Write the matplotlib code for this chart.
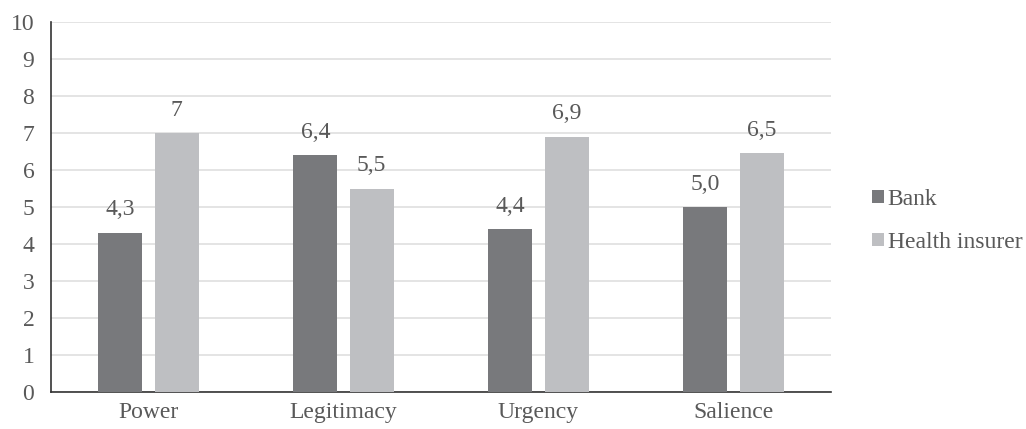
import matplotlib
matplotlib.use("Agg")
import matplotlib.pyplot as plt
import numpy as np

categories = ["Power", "Legitimacy", "Urgency", "Salience"]
bank = [4.3, 6.4, 4.4, 5.0]
health = [7.0, 5.5, 6.9, 6.45]
bank_labels = ["4,3", "6,4", "4,4", "5,0"]
health_labels = ["7", "5,5", "6,9", "6,5"]
yticks = list(range(0, 11))

plt.rcParams['font.family'] = ['Liberation Serif', 'DejaVu Serif']
txt = "#595959"
c_dark = "#78797c"
c_light = "#bebfc2"
fs = 17

fig = plt.figure(figsize=(10.26, 4.29), dpi=100)
ax = fig.add_axes([51/1026, 37/429, 780/1026, 370/429])

x = np.arange(len(categories))
w = 0.226
off = 0.144
b1 = ax.bar(x - off, bank, w, color=c_dark, label="Bank", zorder=3)
b2 = ax.bar(x + off, health, w, color=c_light, label="Health insurer", zorder=3)

for rect, lab in zip(b1, bank_labels):
    ax.annotate(lab, (rect.get_x() + rect.get_width()/2, rect.get_height()),
                xytext=(0, 9), textcoords="offset points", ha="center", va="bottom",
                fontsize=fs, color=txt)
for rect, lab in zip(b2, health_labels):
    ax.annotate(lab, (rect.get_x() + rect.get_width()/2, rect.get_height()),
                xytext=(0, 9), textcoords="offset points", ha="center", va="bottom",
                fontsize=fs, color=txt)

ax.set_xlim(-0.5, len(categories) - 0.5)
ax.set_ylim(0, 10)
ax.set_yticks(yticks)
ax.set_xticks(x)
ax.set_xticklabels(categories)
ax.yaxis.grid(True, color="#e2e2e2", linewidth=1.3, zorder=0)
ax.set_axisbelow(True)
for s in ["top", "right"]:
    ax.spines[s].set_visible(False)
ax.spines["left"].set_color("#333333")
ax.spines["bottom"].set_color("#333333")
ax.spines["left"].set_linewidth(1.2)
ax.spines["bottom"].set_linewidth(1.2)
ax.tick_params(axis="both", length=0, labelsize=fs, labelcolor=txt)
ax.tick_params(axis="y", pad=12)
ax.tick_params(axis="x", pad=7)

leg = fig.legend(handles=[b1, b2], loc="center left", bbox_to_anchor=(851/1026, 0.485),
                 frameon=False, fontsize=fs, handlelength=0.5, handleheight=0.5,
                 handletextpad=0.15, labelspacing=0.95)
for t in leg.get_texts():
    t.set_color(txt)

fig.savefig("out.png", dpi=100)
